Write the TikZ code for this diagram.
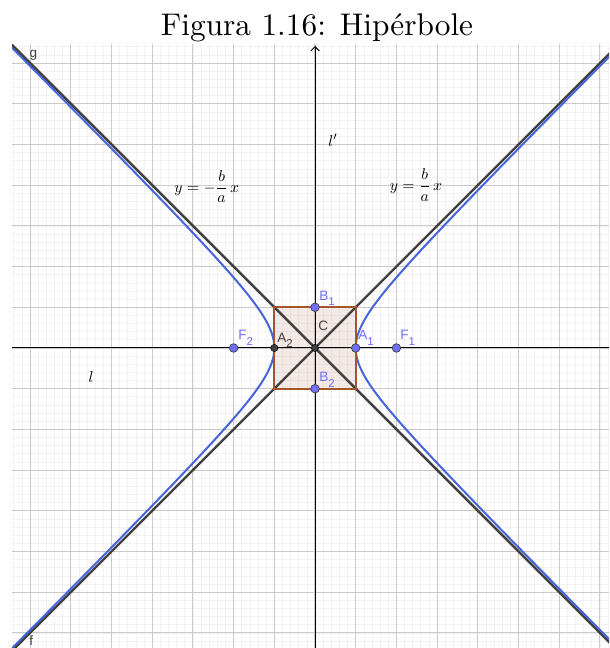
\documentclass[tikz,border=0pt]{standalone}
\usepackage{fontspec}
\usepackage{amsmath}
\newfontfamily\ggbfont{Liberation Sans}
\newfontfamily\titlefont{lmroman10-regular.otf}
\usetikzlibrary{arrows.meta}
\definecolor{gridminor}{RGB}{242,242,242}
\definecolor{gridmajor}{RGB}{202,202,202}
\definecolor{asym}{RGB}{64,64,64}
\definecolor{hyp}{RGB}{70,100,220}
\definecolor{ptblue}{RGB}{110,110,255}
\definecolor{lblblue}{RGB}{110,110,255}
\definecolor{boxbrown}{RGB}{165,85,45}
\newcommand\subl[2]{#1\raisebox{-0.38em}{\fontsize{8}{8}\selectfont #2}}
\begin{document}
\begin{tikzpicture}[
  lbl/.style={font=\ggbfont\fontsize{9.5}{10}\selectfont, inner sep=0pt, anchor=base west},
  mathlbl/.style={font=\fontsize{11}{13}\selectfont, inner sep=0pt},
  bluept/.style={circle, fill=ptblue, draw=black!75, line width=0.5pt, minimum size=6pt, inner sep=0pt},
  darkpt/.style={circle, fill=asym, draw=black, line width=0.4pt, minimum size=5pt, inner sep=0pt},
]
\useasboundingbox (-7.740,-7.371) rectangle (7.224,8.550);
% title
\node[font=\titlefont\fontsize{21.9}{25}\selectfont, anchor=base, inner sep=0pt] (title) at (0.05,7.67) {Figura 1.16: Hipérbole};
\begin{scope}
\clip (-7.445,-7.371) rectangle (7.224,7.445);
\draw[gridminor, line width=0.5pt, step=0.2] (-7.6,-7.6) grid (7.4,7.6);
\draw[gridmajor, line width=0.75pt, step=1] (-8,-8) grid (8,8);
% rectangle fill
\coordinate (R1) at (1,1);
\coordinate (R2) at (-1,1);
\coordinate (R3) at (-1,-1);
\coordinate (R4) at (1,-1);
\fill[boxbrown, opacity=0.12] (R1) -- (R2) -- (R3) -- (R4) -- cycle;
% axes
\coordinate (xl) at (-7.445,0);
\coordinate (xr) at (7.224,0);
\coordinate (yb) at (0,-7.371);
\coordinate (yt) at (0,7.42);
\draw[black, line width=0.7pt] (xl) -- (xr);
\draw[black, line width=0.7pt, -{Straight Barb[length=3pt,width=6pt]}] (yb) -- (yt);
% asymptotes
\coordinate (fa) at (-8,-8);
\coordinate (fb) at (8,8);
\coordinate (ga) at (-8,8);
\coordinate (gb) at (8,-8);
\draw[asym, line width=1.7pt] (fa) -- (fb);
\draw[asym, line width=1.7pt] (ga) -- (gb);
% hyperbola
\draw[hyp, line width=1.4pt, domain=-2.8:2.8, samples=200, variable=\t] plot ({cosh(\t)},{sinh(\t)});
\draw[hyp, line width=1.4pt, domain=-2.8:2.8, samples=200, variable=\t] plot ({-cosh(\t)},{sinh(\t)});
% rectangle edges
\draw[boxbrown, line width=1.3pt] (R1) -- (R2) -- (R3) -- (R4) -- cycle;
\end{scope}
% points
\node[bluept] (F2) at (-2,0) {};
\node[bluept] (F1) at (2,0) {};
\node[bluept] (A1) at (1,0) {};
\node[bluept] (B1) at (0,1) {};
\node[bluept] (B2) at (0,-1) {};
\node[darkpt] (A2) at (-1,0) {};
\node[darkpt] (C) at (0,0) {};
% point labels
\node[lbl, text=lblblue] (F2l) at (-1.892,0.197) {\subl{F}{2}};
\node[lbl, text=lblblue] (F1l) at (2.088,0.197) {\subl{F}{1}};
\node[lbl, text=lblblue] (A1l) at (1.057,0.197) {\subl{A}{1}};
\node[lbl, text=lblblue] (B1l) at (0.098,1.179) {\subl{B}{1}};
\node[lbl, text=lblblue] (B2l) at (0.098,-0.835) {\subl{B}{2}};
\node[lbl, text=asym] (A2l) at (-0.934,0.147) {\subl{A}{2}};
\node[lbl, text=asym] (Cl) at (0.074,0.442) {C};
% line labels
\node[font=\ggbfont\fontsize{9.5}{10}\selectfont, text=asym, inner sep=0pt] (gl) at (-6.92,7.20) {g};
\node[font=\ggbfont\fontsize{9.5}{10}\selectfont, text=asym, inner sep=0pt] (fl) at (-6.97,-7.20) {f};
\node[mathlbl] (ll) at (-5.50,-0.71) {$l$};
\node[mathlbl] (lpl) at (0.44,5.11) {$l'$};
\node[mathlbl] (eqneg) at (-2.66,3.96) {$y=-\dfrac{b}{a}\,x$};
\node[mathlbl] (eqpos) at (2.48,4.0) {$y=\dfrac{b}{a}\,x$};
\end{tikzpicture}
\end{document}
